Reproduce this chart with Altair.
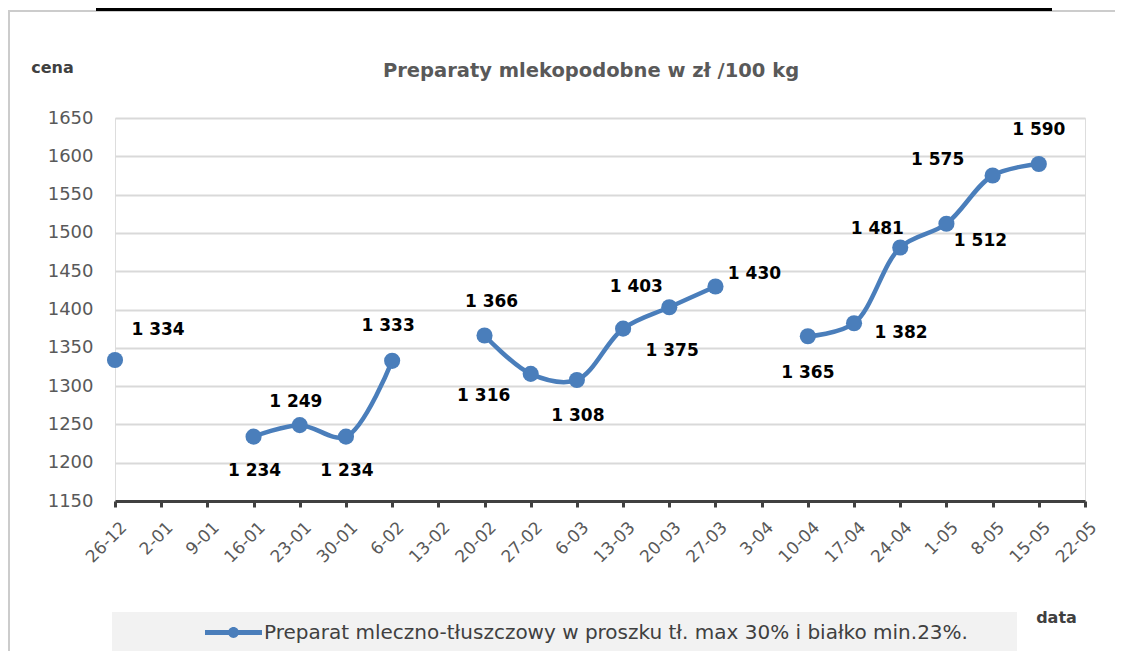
import altair as alt
import pandas as pd

# ---- data ----
dates = ["26-12", "2-01", "9-01", "16-01", "23-01", "30-01", "6-02", "13-02",
         "20-02", "27-02", "6-03", "13-03", "20-03", "27-03", "3-04", "10-04",
         "17-04", "24-04", "1-05", "8-05", "15-05", "22-05"]
prices = [1334, None, None, 1234, 1249, 1234, 1333, None,
          1366, 1316, 1308, 1375, 1403, 1430, None, 1365,
          1382, 1481, 1512, 1575, 1590, None]
series_name = "Preparat mleczno-tłuszczowy w proszku tł. max 30% i białko min.23%."
y_ticks = [1150, 1200, 1250, 1300, 1350, 1400, 1450, 1500, 1550, 1600, 1650]

# label placement (pixel offsets of each data label from its point)
label_dx = [43, 0, 0, 1, -4, 1, -4, 0, 7, -47, 1, 49, -33, 39, 0, 0, 47, -23, 34, -55, 0, 0]
label_dy = [-30, 0, 0, 34, -23, 34, -35, 0, -34, 22, 36, 22, -20, -13, 0, 37, 10, -18, 17, -15, -34, 0]

PLOT_H = 383
Y_MIN, Y_MAX = 1150, 1650

df = pd.DataFrame({"data": dates, "cena": prices, "seria": series_name,
                   "dx": label_dx, "dy": label_dy})
df["etykieta"] = [("" if v is None or pd.isna(v) else f"{int(v):,}".replace(",", " ")) for v in df["cena"]]

BLUE = "#4a7ebb"
FONT = "DejaVu Sans"

x_enc = alt.X("data:O", sort=dates,
              scale=alt.Scale(type="point", padding=0),
              axis=alt.Axis(title="data", titleAngle=0, titleX=941, titleY=116,
                            titleFont=FONT, titleFontSize=16, titleFontWeight="bold",
                            titleColor="#404040", titleAlign="center", titleBaseline="middle",
                            labelAngle=-45, labelFont=FONT, labelFontSize=17,
                            labelColor="#595959", labelPadding=12, labelOffset=3,
                            domainColor="#404040", domainWidth=3,
                            tickColor="#404040", tickWidth=3, tickSize=6,
                            grid=False))
y_scale = alt.Scale(domain=[Y_MIN, Y_MAX], nice=False, zero=False)
y_axis = alt.Axis(title="cena", titleAngle=0, titleX=-63, titleY=-51,
                  titleFont=FONT, titleFontSize=16, titleFontWeight="bold",
                  titleColor="#404040", titleAlign="center", titleBaseline="middle",
                  values=y_ticks, format="d", labelFont=FONT, labelFontSize=18,
                  labelColor="#595959", labelPadding=22,
                  domain=False, ticks=False,
                  gridColor="#d9d9d9", gridWidth=2)
y_enc = alt.Y("cena:Q", scale=y_scale, axis=y_axis)

sym_path = ("M-1,-0.088L1,-0.088L1,0.088L-1,0.088Z "
            "M-0.19,0A0.19,0.19 0 1,1 0.19,0A0.19,0.19 0 1,1 -0.19,0Z")
color_enc = alt.Color("seria:N", scale=alt.Scale(range=[BLUE]),
                      legend=alt.Legend(title=None, orient="none", legendX=90, legendY=486,
                                        symbolType=sym_path, symbolSize=3249,
                                        symbolFillColor=BLUE, symbolStrokeColor=BLUE,
                                        symbolStrokeWidth=0, labelFont=FONT,
                                        labelFontSize=20, labelColor="#404040",
                                        labelOffset=2, padding=0, labelLimit=950))

base = alt.Chart(df)
one = alt.Data(values=[{}])

frame_top = alt.Chart(one).mark_rect(color="#cccccc").encode(
    x=alt.value(-107), x2=alt.value(1040), y=alt.value(-108), y2=alt.value(-106))
frame_left = alt.Chart(one).mark_rect(color="#cccccc").encode(
    x=alt.value(-107), x2=alt.value(-105), y=alt.value(-108), y2=alt.value(600))

top_bar = alt.Chart(one).mark_rect(color="black").encode(
    x=alt.value(-19), x2=alt.value(937), y=alt.value(-112), y2=alt.value(-107))

legend_bg = alt.Chart(one).mark_rect(color="#f2f2f2").encode(
    x=alt.value(-3), x2=alt.value(902), y=alt.value(494), y2=alt.value(539))

title = alt.Chart(one).mark_text(
    text="Preparaty mlekopodobne w zł /100 kg", font=FONT, fontSize=19.5,
    fontWeight="bold", color="#595959", align="center", baseline="middle"
).encode(x=alt.value(476), y=alt.value(-47))

line = base.mark_line(interpolate="catmull-rom", strokeWidth=4.5,
                      invalid="break-paths-show-domains").encode(
    x=x_enc, y=y_enc, color=color_enc)

points = base.transform_filter("datum.cena != null").mark_circle(size=260, opacity=1).encode(
    x=x_enc, y=y_enc, color=color_enc)

labels = base.transform_filter("datum.cena != null").transform_calculate(
    label_y=f"datum.cena - datum.dy * {(Y_MAX - Y_MIN) / PLOT_H}"
).mark_text(
    font=FONT, fontSize=17, fontWeight="bold", color="black",
    align="center", baseline="middle").encode(
    x=x_enc,
    y=alt.Y("label_y:Q", scale=y_scale, axis=y_axis),
    xOffset=alt.XOffset("dx:Q", scale=None),
    text="etykieta:N")

chart = alt.layer(frame_top, frame_left, top_bar, legend_bg, title, line, points, labels).properties(
    width=970, height=PLOT_H,
    padding={"left": 107, "top": 110, "right": 30, "bottom": 150},
    autosize=alt.AutoSizeParams(type="none"),
).configure_view(strokeWidth=0).configure(background="white")

chart.save("out.html", embed_options={"renderer": "svg", "actions": False})
